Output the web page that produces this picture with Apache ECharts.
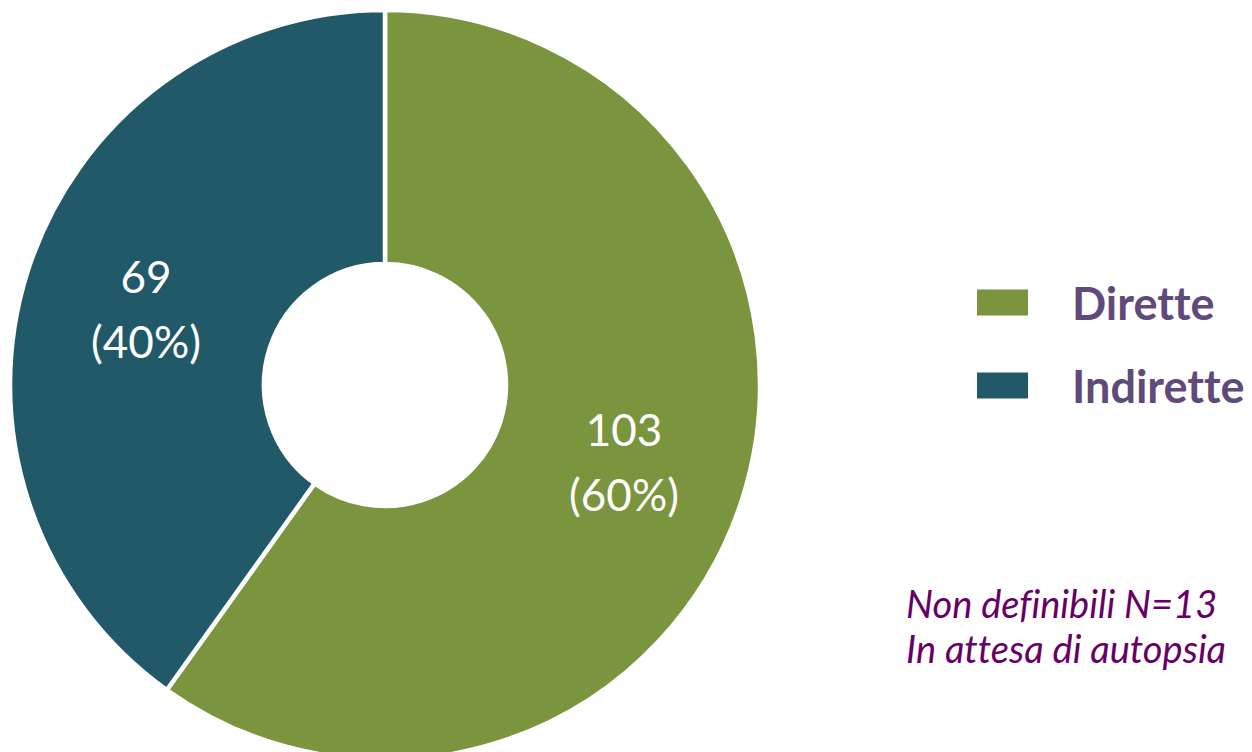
<!DOCTYPE html>
<html>
<head>
<meta charset="utf-8">
<script src="https://cdn.jsdelivr.net/npm/echarts@6/dist/echarts.min.js"></script>
<style>
  html, body { margin: 0; padding: 0; background: #ffffff; }
  #chart { width: 1252px; height: 752px; }
  #chart text { font-variant-ligatures: none; }
</style>
</head>
<body>
<div id="chart"></div>
<script>
// Categories and counts for the donut
const categories = ['Dirette', 'Indirette'];
const counts = [103, 69];
const sliceColors = ['#7a953d', '#215968'];
const noteLines = ['Non definibili N=13', 'In attesa di autopsia'];

const total = counts.reduce((a, b) => a + b, 0);
const pieData = categories.map((name, i) => ({
  name: name,
  value: counts[i],
  itemStyle: { color: sliceColors[i] }
}));

const chart = echarts.init(document.getElementById('chart'), null, { renderer: 'svg' });
chart.setOption({
  animation: false,
  backgroundColor: '#ffffff',
  legend: {
    orient: 'vertical',
    left: 975,
    top: 280,
    padding: 0,
    icon: 'rect',
    itemWidth: 53,
    itemHeight: 28,
    itemGap: 38,
    data: categories,
    textStyle: {
      fontFamily: 'Lato',
      fontWeight: 'bold',
      fontSize: 45,
      color: '#604a7b',
      lineHeight: 28,
      padding: [0, 0, 0, 38]
    }
  },
  graphic: noteLines.map((t, i) => ({
    type: 'text',
    x: 906,
    y: 603 + i * 45,
    style: {
      text: t,
      fontFamily: 'Lato',
      fontStyle: 'italic',
      fontSize: 38,
      fill: '#660066',
      verticalAlign: 'middle'
    }
  })),
  series: [{
    type: 'pie',
    center: [385, 385],
    radius: [121, 375],
    startAngle: 90,
    clockwise: true,
    avoidLabelOverlap: false,
    itemStyle: { borderColor: '#ffffff', borderWidth: 4.5 },
    label: {
      show: true,
      position: 'inside',
      fontFamily: 'Lato',
      fontSize: 44,
      lineHeight: 65,
      color: '#ffffff',
      formatter: p => p.value + '\n(' + Math.round(p.value / total * 100) + '%)'
    },
    labelLine: { show: false },
    emphasis: { disabled: true },
    data: pieData
  }]
});
</script>
</body>
</html>
